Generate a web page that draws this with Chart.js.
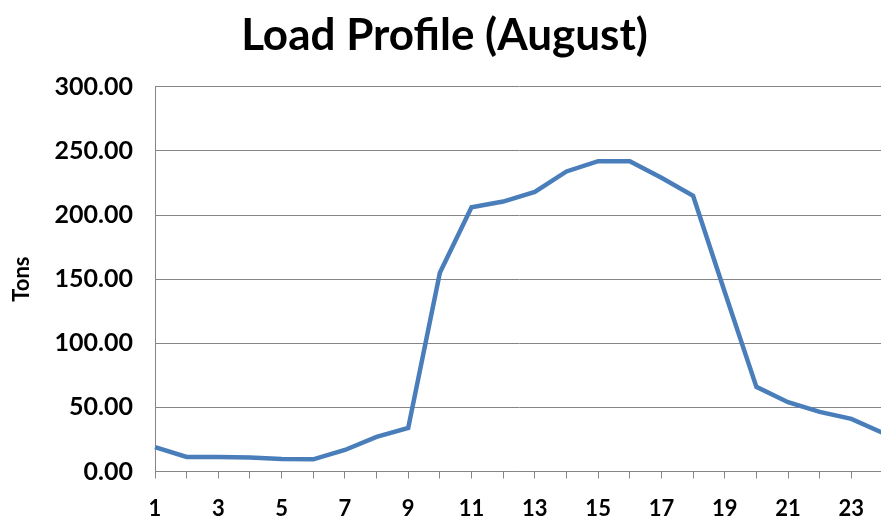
<!DOCTYPE html>
<html>
<head>
<meta charset="utf-8">
<script src="https://cdn.jsdelivr.net/npm/chart.js@4"></script>
<style>
html,body{margin:0;padding:0;overflow:hidden;background:#fff;width:881px;height:520px;}
#wrap{width:900px;height:520px;}
</style>
</head>
<body>
<div id="wrap"><canvas id="c" width="900" height="520" style="width:900px;height:520px"></canvas></div>
<script>
const titleText = "Load Profile (August)";
const yTitle = "Tons";
const hours = ["1","2","3","4","5","6","7","8","9","10","11","12","13","14","15","16","17","18","19","20","21","22","23","24"];
const tons = [19, 11.3, 11.3, 11, 9.7, 9.5, 16.8, 27, 34, 155, 206, 210.5, 218, 234, 242, 242, 229, 215, 140, 66, 54, 46.5, 41, 30];
const yMin = 0, yMax = 300, yStep = 50;

const FONT = "Lato";
new Chart(document.getElementById('c'), {
  type: 'line',
  data: {
    labels: hours,
    datasets: [{
      data: tons,
      borderColor: '#4A7EBB',
      borderWidth: 4.5,
      pointRadius: 0,
      tension: 0,
      fill: false
    }]
  },
  options: {
    responsive: false,
    animation: false,
    layout: { padding: { left: 0, right: 11, top: 0, bottom: 0 } },
    plugins: {
      legend: { display: false },
      tooltip: { enabled: false },
      title: {
        display: true,
        text: titleText,
        color: '#000',
        font: { family: FONT, size: 44, weight: 'bold' },
        padding: { top: 9, bottom: 25 }
      }
    },
    scales: {
      x: {
        type: 'category',
        offset: false,
        grid: { drawOnChartArea: false, drawTicks: true, tickLength: 7, color: '#868686' },
        border: { color: '#868686', width: 1 },
        ticks: {
          autoSkip: false,
          maxRotation: 0,
          padding: 17,
          color: '#000',
          font: { family: FONT, size: 22, weight: 'bold' },
          callback: function(v, i) { return i % 2 === 0 ? this.getLabelForValue(v) : ''; }
        },
        afterFit: s => { s.height = 48.5; }
      },
      y: {
        min: yMin, max: yMax,
        grid: { color: '#868686', drawTicks: false },
        border: { color: '#868686', width: 1 },
        ticks: {
          stepSize: yStep,
          padding: 22,
          color: '#000',
          font: { family: FONT, size: 25, weight: 'bold' },
          callback: v => Number(v).toFixed(2)
        },
        title: {
          display: true,
          text: yTitle,
          color: '#000',
          font: { family: FONT, size: 22, weight: 'bold' },
          padding: { top: 9, bottom: 0 }
        },
        afterFit: s => { s.width = 155; }
      }
    }
  }
});
</script>
</body>
</html>
